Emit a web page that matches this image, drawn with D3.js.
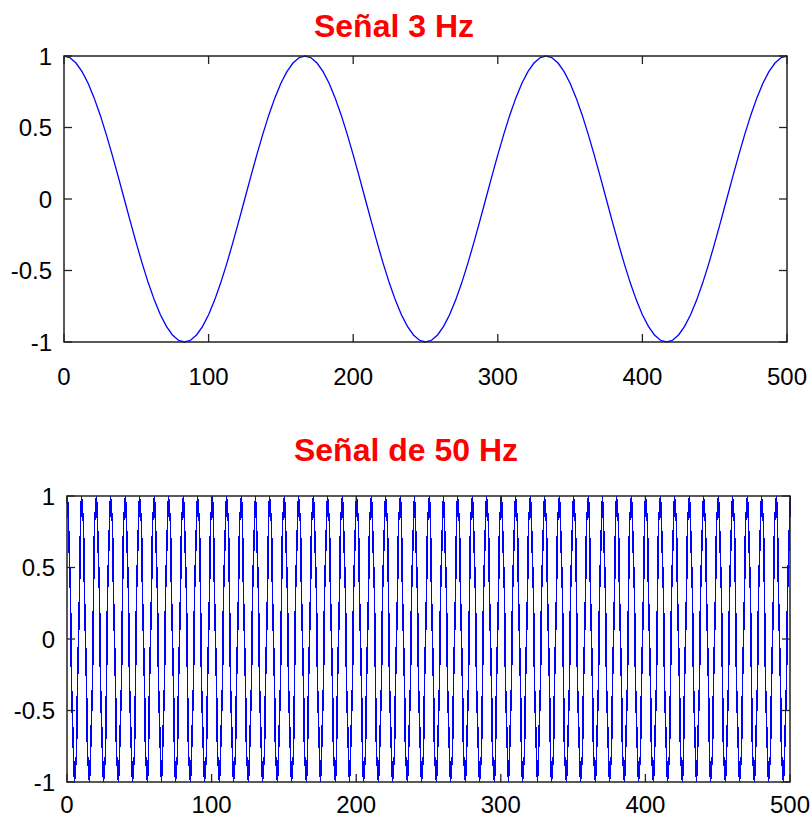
<!DOCTYPE html>
<html>
<head>
<meta charset="utf-8">
<script src="https://cdn.jsdelivr.net/npm/d3@7"></script>
<style>
  html, body { margin: 0; padding: 0; background: #fff; }
  svg { display: block; }
  .tick-label { font-family: "Liberation Sans", Arial, sans-serif; font-size: 24px; fill: #000; }
  .title { font-family: "Liberation Sans", Arial, sans-serif; font-size: 32px; font-weight: bold; fill: #ff0000; }
</style>
</head>
<body>
<script>
// Axis ticks shared by both panels
const xTicks = [0, 100, 200, 300, 400, 500];
const yTicks = [-1, -0.5, 0, 0.5, 1];
const yTickLabels = ["-1", "-0.5", "0", "0.5", "1"];

// 3 Hz signal: amplitude every 500/120 samples over the 0..500 record
const sig3 = [
  1, .988, .951, .891, .809, .707, .588, .454, .309, .156, 0, -.156, -.309, -.454, -.588, -.707, -.809, -.891, -.951, -.988,
  -1, -.988, -.951, -.891, -.809, -.707, -.588, -.454, -.309, -.156, 0, .156, .309, .454, .588, .707, .809, .891, .951, .988,
  1, .988, .951, .891, .809, .707, .588, .454, .309, .156, 0, -.156, -.309, -.454, -.588, -.707, -.809, -.891, -.951, -.988,
  -1, -.988, -.951, -.891, -.809, -.707, -.588, -.454, -.309, -.156, 0, .156, .309, .454, .588, .707, .809, .891, .951, .988,
  1, .988, .951, .891, .809, .707, .588, .454, .309, .156, 0, -.156, -.309, -.454, -.588, -.707, -.809, -.891, -.951, -.988,
  -1, -.988, -.951, -.891, -.809, -.707, -.588, -.454, -.309, -.156, 0, .156, .309, .454, .588, .707, .809, .891, .951, .988,
  1
];

// 50 Hz signal: one value per sample, samples 0..500
const sig50 = [
  1,.809,.309,-.309,-.809,-1,-.809,-.309,.309,.809, 1,.809,.309,-.309,-.809,-1,-.809,-.309,.309,.809,
  1,.809,.309,-.309,-.809,-1,-.809,-.309,.309,.809, 1,.809,.309,-.309,-.809,-1,-.809,-.309,.309,.809,
  1,.809,.309,-.309,-.809,-1,-.809,-.309,.309,.809, 1,.809,.309,-.309,-.809,-1,-.809,-.309,.309,.809,
  1,.809,.309,-.309,-.809,-1,-.809,-.309,.309,.809, 1,.809,.309,-.309,-.809,-1,-.809,-.309,.309,.809,
  1,.809,.309,-.309,-.809,-1,-.809,-.309,.309,.809, 1,.809,.309,-.309,-.809,-1,-.809,-.309,.309,.809,
  1,.809,.309,-.309,-.809,-1,-.809,-.309,.309,.809, 1,.809,.309,-.309,-.809,-1,-.809,-.309,.309,.809,
  1,.809,.309,-.309,-.809,-1,-.809,-.309,.309,.809, 1,.809,.309,-.309,-.809,-1,-.809,-.309,.309,.809,
  1,.809,.309,-.309,-.809,-1,-.809,-.309,.309,.809, 1,.809,.309,-.309,-.809,-1,-.809,-.309,.309,.809,
  1,.809,.309,-.309,-.809,-1,-.809,-.309,.309,.809, 1,.809,.309,-.309,-.809,-1,-.809,-.309,.309,.809,
  1,.809,.309,-.309,-.809,-1,-.809,-.309,.309,.809, 1,.809,.309,-.309,-.809,-1,-.809,-.309,.309,.809,
  1,.809,.309,-.309,-.809,-1,-.809,-.309,.309,.809, 1,.809,.309,-.309,-.809,-1,-.809,-.309,.309,.809,
  1,.809,.309,-.309,-.809,-1,-.809,-.309,.309,.809, 1,.809,.309,-.309,-.809,-1,-.809,-.309,.309,.809,
  1,.809,.309,-.309,-.809,-1,-.809,-.309,.309,.809, 1,.809,.309,-.309,-.809,-1,-.809,-.309,.309,.809,
  1,.809,.309,-.309,-.809,-1,-.809,-.309,.309,.809, 1,.809,.309,-.309,-.809,-1,-.809,-.309,.309,.809,
  1,.809,.309,-.309,-.809,-1,-.809,-.309,.309,.809, 1,.809,.309,-.309,-.809,-1,-.809,-.309,.309,.809,
  1,.809,.309,-.309,-.809,-1,-.809,-.309,.309,.809, 1,.809,.309,-.309,-.809,-1,-.809,-.309,.309,.809,
  1,.809,.309,-.309,-.809,-1,-.809,-.309,.309,.809, 1,.809,.309,-.309,-.809,-1,-.809,-.309,.309,.809,
  1,.809,.309,-.309,-.809,-1,-.809,-.309,.309,.809, 1,.809,.309,-.309,-.809,-1,-.809,-.309,.309,.809,
  1,.809,.309,-.309,-.809,-1,-.809,-.309,.309,.809, 1,.809,.309,-.309,-.809,-1,-.809,-.309,.309,.809,
  1,.809,.309,-.309,-.809,-1,-.809,-.309,.309,.809, 1,.809,.309,-.309,-.809,-1,-.809,-.309,.309,.809,
  1,.809,.309,-.309,-.809,-1,-.809,-.309,.309,.809, 1,.809,.309,-.309,-.809,-1,-.809,-.309,.309,.809,
  1,.809,.309,-.309,-.809,-1,-.809,-.309,.309,.809, 1,.809,.309,-.309,-.809,-1,-.809,-.309,.309,.809,
  1,.809,.309,-.309,-.809,-1,-.809,-.309,.309,.809, 1,.809,.309,-.309,-.809,-1,-.809,-.309,.309,.809,
  1,.809,.309,-.309,-.809,-1,-.809,-.309,.309,.809, 1,.809,.309,-.309,-.809,-1,-.809,-.309,.309,.809,
  1,.809,.309,-.309,-.809,-1,-.809,-.309,.309,.809, 1,.809,.309,-.309,-.809,-1,-.809,-.309,.309,.809,
  1
];

const titles = ["Señal 3 Hz", "Señal de 50 Hz"];

const W = 812, H = 819;
const svg = d3.select("body").append("svg").attr("width", W).attr("height", H);

// Sample positions for each series
const pos3 = sig3.map((_, i) => i * 500 / (sig3.length - 1));
const pos50 = sig50.map((_, i) => i);

const panels = [
  { title: titles[0], xs: pos3, ys: sig3, left: 64, right: 787, top: 56, bottom: 342,
    titleX: 394, titleY: 37, xLabelY: 385, yLabelX: 52, snap: false },
  { title: titles[1], xs: pos50, ys: sig50, left: 67, right: 790, top: 496, bottom: 782,
    titleX: 406, titleY: 461, xLabelY: 813, yLabelX: 55, snap: true }
];

const tickLen = 8;

panels.forEach(p => {
  const x = d3.scaleLinear().domain([0, 500]).range([p.left, p.right]);
  const y = d3.scaleLinear().domain([-1, 1]).range([p.bottom, p.top]);
  const g = svg.append("g");

  // data trace; the dense trace is placed on whole screen pixels and drawn unsmoothed
  const px = v => p.snap ? Math.round(x(v)) + 0.5 : x(v);
  const line = d3.line().x((d, i) => px(p.xs[i])).y(d => y(d));
  g.append("path")
    .datum(p.ys)
    .attr("d", line)
    .attr("fill", "none")
    .attr("stroke", "#0000ff")
    .attr("stroke-width", p.snap ? 1.6 : 1.3)
    .attr("shape-rendering", p.snap ? "crispEdges" : "auto")
    .attr("stroke-linejoin", "miter");

  // inward ticks on all four sides
  const tickG = g.append("g").attr("stroke", "#222").attr("stroke-width", 1.3);
  xTicks.forEach(t => {
    tickG.append("line").attr("x1", x(t)).attr("x2", x(t)).attr("y1", p.bottom).attr("y2", p.bottom - tickLen);
    tickG.append("line").attr("x1", x(t)).attr("x2", x(t)).attr("y1", p.top).attr("y2", p.top + tickLen);
  });
  yTicks.forEach(t => {
    tickG.append("line").attr("x1", p.left).attr("x2", p.left + tickLen).attr("y1", y(t)).attr("y2", y(t));
    tickG.append("line").attr("x1", p.right).attr("x2", p.right - tickLen).attr("y1", y(t)).attr("y2", y(t));
  });

  // axes box
  g.append("rect")
    .attr("x", p.left).attr("y", p.top)
    .attr("width", p.right - p.left).attr("height", p.bottom - p.top)
    .attr("fill", "none").attr("stroke", "#222").attr("stroke-width", 1.5);

  // tick labels
  xTicks.forEach(t => {
    g.append("text").attr("class", "tick-label")
      .attr("x", x(t)).attr("y", p.xLabelY)
      .attr("text-anchor", "middle")
      .text(t);
  });
  yTicks.forEach((t, i) => {
    g.append("text").attr("class", "tick-label")
      .attr("x", p.yLabelX).attr("y", y(t) + 8.5)
      .attr("text-anchor", "end")
      .text(yTickLabels[i]);
  });

  // title
  g.append("text").attr("class", "title")
    .attr("x", p.titleX).attr("y", p.titleY)
    .attr("text-anchor", "middle")
    .text(p.title);
});
</script>
</body>
</html>
